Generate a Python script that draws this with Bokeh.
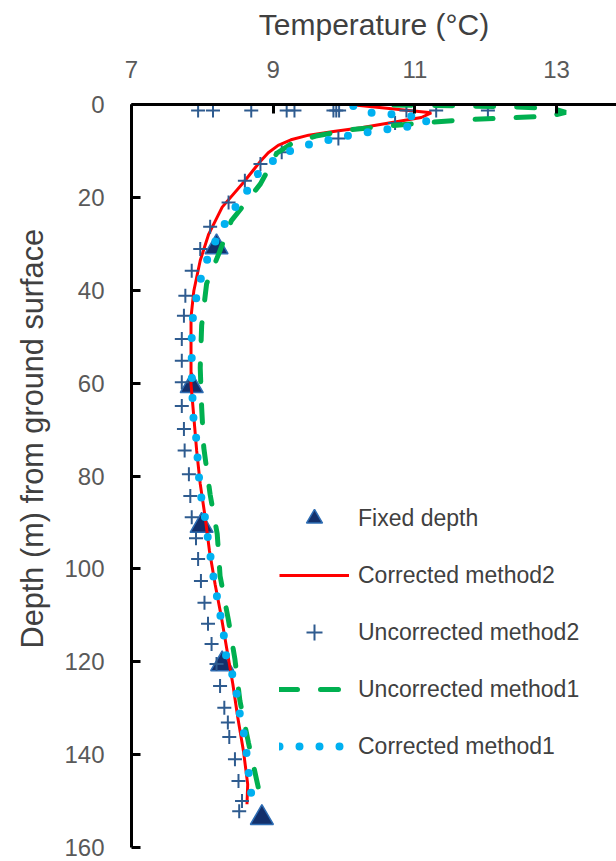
import math
from bokeh.plotting import figure
from bokeh.models import Range1d, FixedTicker, Legend, LegendItem, Title
from bokeh.embed import file_html
from bokeh.resources import INLINE

# ---------------- data (temperature in degC, depth in m) ----------------
fixed_temp = [8.20, 7.85, 7.99, 8.28, 8.84]
fixed_depth = [30.7, 60.6, 90.7, 120.5, 153.6]

corr2_temp = [10.08, 11.23, 11.09, 10.24, 9.85, 9.50, 9.25, 9.07, 8.93, 8.81, 8.58, 8.28, 8.09,
              7.97, 7.88, 7.84, 7.84, 7.84, 7.88, 7.92, 7.97, 8.04, 8.10, 8.18, 8.27, 8.35,
              8.43, 8.50, 8.58, 8.64, 8.63]
corr2_depth = [0.0, 1.8, 2.8, 5.0, 5.8, 6.6, 7.6, 8.8, 10.4, 12.4, 16.8, 22.1, 27.9,
               33.6, 40.1, 45.8, 53.0, 60.2, 67.4, 74.6, 81.7, 88.9, 96.1, 103.3, 110.5, 117.7,
               124.8, 132.0, 139.2, 146.4, 150.7]

uncorr2_temp = [7.94, 8.15, 8.69, 9.19, 9.30, 9.85, 9.89, 9.93, 10.88, 11.30, 12.03,
                10.72, 9.92, 9.12, 8.82, 8.60, 8.37, 8.11, 7.97, 7.85, 7.76, 7.74, 7.71, 7.71,
                7.71, 7.71, 7.74, 7.75, 7.81, 7.83, 7.85, 7.91, 7.94, 7.98, 8.03, 8.08, 8.13,
                8.20, 8.25, 8.31, 8.36, 8.38, 8.46, 8.51, 8.56, 8.52]
uncorr2_depth = [1.3, 1.3, 1.3, 1.3, 1.3, 1.3, 1.3, 1.3, 1.3, 1.3, 1.3,
                 4.0, 7.3, 10.3, 12.8, 16.4, 21.1, 26.3, 31.1, 35.8, 41.2, 45.5, 50.5, 55.2,
                 59.8, 64.9, 69.9, 74.5, 79.6, 84.3, 88.9, 93.4, 97.9, 102.6, 107.3, 111.8, 116.2,
                 120.5, 125.2, 129.9, 133.1, 136.2, 141.0, 145.7, 150.0, 152.2]

uncorr1_temp = [10.70, 11.60, 12.40, 12.95, 13.13, 12.90, 12.30, 11.70, 11.25, 10.70, 10.10,
                9.60, 9.25, 9.05, 8.93, 8.82, 8.62, 8.41, 8.23, 8.06, 7.99, 7.97, 7.99, 8.02,
                8.11, 8.21, 8.25, 8.37, 8.46, 8.53, 8.65, 8.79, 8.82]
uncorr1_depth = [0.1, 0.3, 0.5, 0.9, 1.7, 2.5, 2.9, 3.3, 3.8, 4.5, 5.4,
                 6.8, 8.5, 10.5, 14.0, 17.1, 21.0, 25.0, 32.2, 38.6, 47.6, 56.7, 65.2, 73.9,
                 84.0, 92.5, 101.5, 111.2, 119.5, 128.4, 137.4, 147.1, 149.0]

corr1_temp = [10.13, 10.24, 10.50, 10.78, 11.06, 11.19, 11.02, 10.74, 10.45, 10.15, 9.64, 9.36,
              9.09, 8.95, 8.76, 8.62, 8.48, 8.34, 8.20, 8.08, 7.99, 7.92, 7.87, 7.85, 7.85, 7.85,
              7.86, 7.87, 7.91, 7.93, 7.95, 7.98, 8.03, 8.07, 8.11, 8.15, 8.20, 8.25, 8.30, 8.32,
              8.41, 8.48, 8.52, 8.58, 8.62, 8.65, 8.69, 8.67]
corr1_depth = [0.3, 1.4, 2.1, 2.1, 2.8, 3.4, 4.6, 5.0, 5.7, 6.4, 8.1, 9.2,
               11.0, 12.7, 15.3, 18.9, 21.8, 25.0, 29.0, 32.9, 36.8, 41.2, 45.1, 49.8, 53.7, 58.0,
               62.7, 67.0, 71.3, 75.6, 79.9, 84.2, 88.2, 92.5, 96.8, 101.1, 105.4, 109.7, 113.7, 118.0,
               121.9, 126.6, 130.6, 134.9, 139.2, 143.5, 147.8, 151.7]

x_ticks = [7, 9, 11, 13]
y_ticks = [0, 20, 40, 60, 80, 100, 120, 140, 160]

FONT = "Liberation Sans"

p = figure(width=616, height=861, x_range=Range1d(7, 13.845), y_range=Range1d(160, 0),
           x_axis_location="above", output_backend="svg", toolbar_location=None,
           min_border_left=130, min_border_right=0, min_border_top=104, min_border_bottom=14)
p.xgrid.visible = False
p.ygrid.visible = False
p.outline_line_color = None
p.background_fill_color = "white"
p.border_fill_color = "white"

p.xaxis.ticker = FixedTicker(ticks=x_ticks)
p.yaxis.ticker = FixedTicker(ticks=y_ticks)
for ax in (p.xaxis, p.yaxis):
    ax.axis_line_width = 3
    ax.axis_line_color = "black"
    ax.major_tick_line_color = "black"
    ax.major_tick_line_width = 3
    ax.major_tick_in = 9
    ax.major_tick_out = 0
    ax.minor_tick_line_color = None
    ax.major_label_text_font = FONT
    ax.major_label_text_font_size = "24px"
    ax.major_label_text_color = "#595959"
p.xaxis.major_label_standoff = 27
p.yaxis.major_label_standoff = 27
p.xaxis.axis_label = "Temperature (°C)"
p.xaxis.axis_label_text_font = FONT
p.xaxis.axis_label_text_font_size = "30px"
p.xaxis.axis_label_text_font_style = "normal"
p.xaxis.axis_label_text_color = "#404040"
p.xaxis.axis_label_standoff = 17

r_fixed = p.scatter(fixed_temp, fixed_depth, marker="triangle", size=23,
                    fill_color="#13306B", line_color="#2E6DB4", line_width=1.5)
r_c2 = p.line(corr2_temp, corr2_depth, line_color="#FF0000", line_width=3)
r_u2 = p.scatter(uncorr2_temp, uncorr2_depth, marker="cross", size=14,
                 line_color="#2E5B8F", line_width=2)
r_u1 = p.line(uncorr1_temp, uncorr1_depth, line_color="#00B050", line_width=5,
              line_dash="18 23", line_cap="round")
r_c1 = p.line(corr1_temp, corr1_depth, line_color="#00B0F0", line_width=8,
              line_dash="0 20", line_cap="round")

legend = Legend(items=[
    LegendItem(label="Fixed depth", renderers=[r_fixed]),
    LegendItem(label="Corrected method2", renderers=[r_c2]),
    LegendItem(label="Uncorrected method2", renderers=[r_u2]),
    LegendItem(label="Uncorrected method1", renderers=[r_u1]),
    LegendItem(label="Corrected method1", renderers=[r_c1]),
], location=(148, 81), glyph_width=70, glyph_height=40, spacing=17, padding=0, margin=0,
    label_standoff=9, label_text_font=FONT, label_text_font_size="23px",
    label_text_color="#404040", background_fill_alpha=0, border_line_color=None)
p.add_layout(legend)

ytitle = Title(text="Depth (m) from ground surface", align="left", offset=199,
               text_font=FONT, text_font_size="30.7px", text_font_style="normal",
               text_color="#404040", standoff=24)
p.add_layout(ytitle, "left")

open("out.html", "w").write(file_html(p, INLINE))
